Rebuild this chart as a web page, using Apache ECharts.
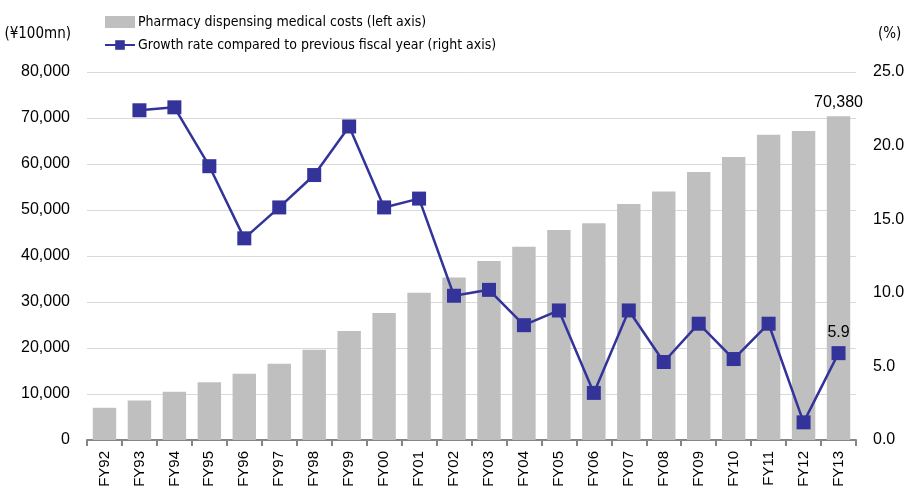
<!DOCTYPE html>
<html><head><meta charset="utf-8">
<script src="https://cdn.jsdelivr.net/npm/echarts@6/dist/echarts.min.js"></script>
<style>html,body{margin:0;padding:0;background:#fff}#c{width:911px;height:499px}</style>
</head><body><div id="c"></div>
<script>
var categories = ['FY92','FY93','FY94','FY95','FY96','FY97','FY98','FY99','FY00','FY01','FY02','FY03','FY04','FY05','FY06','FY07','FY08','FY09','FY10','FY11','FY12','FY13'];
var costs = [7000,8600,10500,12550,14400,16550,19600,23700,27600,32000,35300,38900,42000,45650,47100,51300,54000,58250,61500,66350,67150,70380];
var growth = [null,22.4,22.6,18.6,13.7,15.8,18.0,21.3,15.8,16.4,9.8,10.2,7.8,8.8,3.2,8.8,5.3,7.9,5.5,7.9,1.2,5.9];
var leftTicks = {min:0,max:80000,interval:10000};
var rightTicks = {min:0,max:25,interval:5};
var barName = 'Pharmacy dispensing medical costs (left axis)';
var lineName = 'Growth rate compared to previous fiscal year (right axis)';

var font = 'Liberation Sans';
var narrow = '"DejaVu Sans Condensed", sans-serif';
var chart = echarts.init(document.getElementById('c'));
chart.setOption({
  animation:false,
  textStyle:{fontFamily:font},
  legend:{
    orient:'vertical', left:99, top:10, itemGap:9, itemWidth:30, itemHeight:12,
    textStyle:{fontFamily:narrow, fontSize:14, color:'#000', padding:[0,0,0,-2]},
    data:[{name:barName, icon:'rect'},{name:lineName}]
  },
  grid:{left:87,right:55,top:72,bottom:59},
  xAxis:{
    type:'category', data:categories, boundaryGap:true,
    axisLine:{lineStyle:{color:'#868686',width:2}},
    axisTick:{show:true,length:6,lineStyle:{color:'#868686',width:2}},
    axisLabel:{rotate:90,color:'#000',fontSize:15,margin:11,fontFamily:font}
  },
  yAxis:[{
    type:'value', min:leftTicks.min, max:leftTicks.max, interval:leftTicks.interval,
    name:'(¥100mn)', nameLocation:'end', nameGap:0,
    nameTextStyle:{color:'#000',fontSize:15,fontFamily:narrow,align:'right',verticalAlign:'bottom',padding:[0,16,30,0]},
    axisLine:{show:false}, axisTick:{show:false},
    splitLine:{lineStyle:{color:'#d9d9d9',width:1}},
    axisLabel:{color:'#000',fontSize:16,margin:17,
      formatter:function(v){return v.toLocaleString('en-US');}}
  },{
    type:'value', min:rightTicks.min, max:rightTicks.max, interval:rightTicks.interval,
    name:'(%)', nameLocation:'end', nameGap:0,
    nameTextStyle:{color:'#000',fontSize:15,fontFamily:narrow,align:'left',verticalAlign:'bottom',padding:[0,0,30,22]},
    axisLine:{show:false}, axisTick:{show:false}, splitLine:{show:false},
    axisLabel:{color:'#000',fontSize:16,margin:17,formatter:function(v){return v.toFixed(1);}}
  }],
  series:[{
    name:barName, type:'bar', data:costs, yAxisIndex:0, barCategoryGap:'33%',
    itemStyle:{color:'#bfbfbf'},
    label:{show:true,position:'top',distance:6,color:'#000',fontSize:16,
      formatter:function(p){return p.dataIndex===costs.length-1?p.value.toLocaleString('en-US'):'';}}
  },{
    name:lineName, type:'line', data:growth, yAxisIndex:1,
    symbol:'rect', symbolSize:14, connectNulls:false,
    lineStyle:{color:'#333399',width:2.5}, itemStyle:{color:'#333399'},
    label:{show:true,position:'top',distance:6,color:'#000',fontSize:16,
      formatter:function(p){return p.dataIndex===growth.length-1?p.value.toFixed(1):'';}}
  }]
});
</script></body></html>
